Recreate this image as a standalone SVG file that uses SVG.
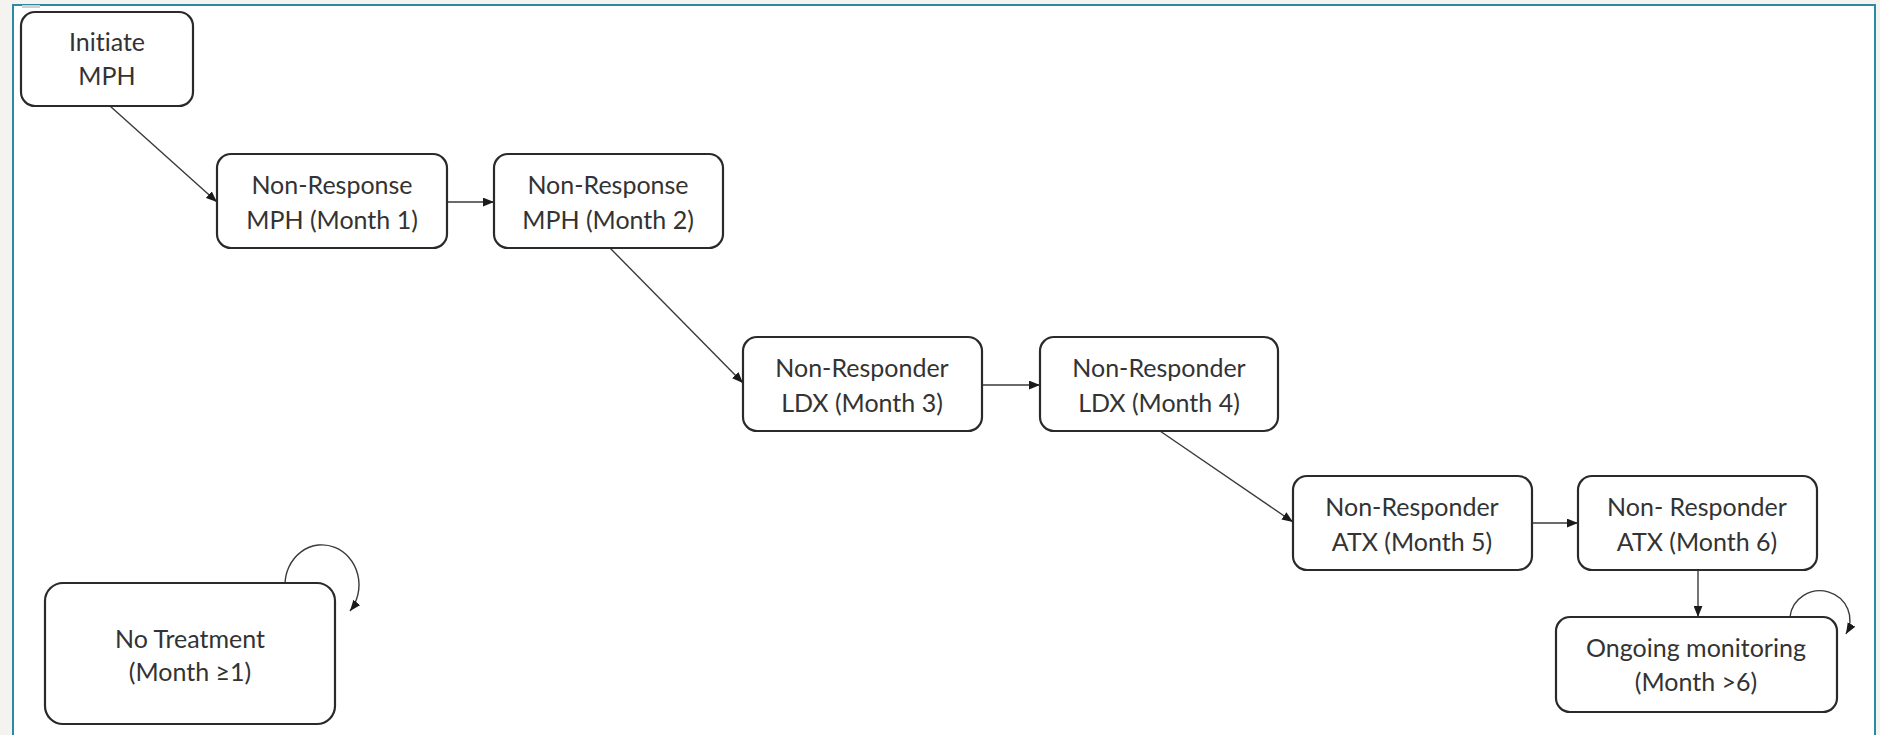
<svg xmlns="http://www.w3.org/2000/svg" width="1880" height="735" viewBox="0 0 1880 735">
  <defs>
    <marker id="arrow" viewBox="0 0 10 8" refX="10" refY="4" markerWidth="11" markerHeight="9" markerUnits="userSpaceOnUse" orient="auto">
      <path d="M0,0 L10,4 L0,8 z" fill="#1a1a1a"/>
    </marker>
  </defs>
  <style>
    .box { fill: #ffffff; stroke: #2a2a2a; stroke-width: 2.2; }
    .label { font-family: Lato, "Open Sans", "Liberation Sans", sans-serif; font-size: 25px; fill: #333333; text-anchor: middle; font-variant-ligatures: none; }
    .edge { fill: none; stroke: #3a3a3a; stroke-width: 1.4; marker-end: url(#arrow); }
  </style>

  <!-- page and frame -->
  <rect x="0" y="0" width="1880" height="735" fill="#f5f3f0"/>
  <rect x="13" y="5" width="1862" height="740" fill="#ffffff" stroke="#2b8aa3" stroke-width="2"/>
  <rect x="22" y="5" width="18" height="3" fill="#cfcfcf"/>

  <!-- connectors -->
  <g id="connectors">
    <line class="edge" x1="110" y1="106" x2="217" y2="202"/>
    <line class="edge" x1="447" y1="202" x2="494" y2="202"/>
    <line class="edge" x1="610" y1="248" x2="743" y2="383"/>
    <line class="edge" x1="982" y1="385" x2="1040" y2="385"/>
    <line class="edge" x1="1160" y1="431" x2="1293" y2="522"/>
    <line class="edge" x1="1532" y1="523" x2="1578" y2="523"/>
    <line class="edge" x1="1698" y1="570" x2="1698" y2="617"/>
    <path class="edge" d="M285,585 A37,40 0 1 1 350,611"/>
    <path class="edge" d="M1790,617 A30,29 0 1 1 1846,634"/>
  </g>

  <!-- nodes -->
  <g id="initiate-mph">
    <rect class="box" x="21" y="12" width="172" height="94" rx="14"/>
    <text class="label" x="107" y="51">Initiate</text>
    <text class="label" x="107" y="85">MPH</text>
  </g>
  <g id="mph-month1">
    <rect class="box" x="217" y="154" width="230" height="94" rx="14"/>
    <text class="label" x="332" y="194">Non-Response</text>
    <text class="label" x="332" y="229">MPH (Month 1)</text>
  </g>
  <g id="mph-month2">
    <rect class="box" x="494" y="154" width="229" height="94" rx="14"/>
    <text class="label" x="608" y="194">Non-Response</text>
    <text class="label" x="608" y="229">MPH (Month 2)</text>
  </g>
  <g id="ldx-month3">
    <rect class="box" x="743" y="337" width="239" height="94" rx="14"/>
    <text class="label" x="862" y="377">Non-Responder</text>
    <text class="label" x="862" y="412">LDX (Month 3)</text>
  </g>
  <g id="ldx-month4">
    <rect class="box" x="1040" y="337" width="238" height="94" rx="14"/>
    <text class="label" x="1159" y="377">Non-Responder</text>
    <text class="label" x="1159" y="412">LDX (Month 4)</text>
  </g>
  <g id="atx-month5">
    <rect class="box" x="1293" y="476" width="239" height="94" rx="14"/>
    <text class="label" x="1412" y="516">Non-Responder</text>
    <text class="label" x="1412" y="551">ATX (Month 5)</text>
  </g>
  <g id="atx-month6">
    <rect class="box" x="1578" y="476" width="239" height="94" rx="14"/>
    <text class="label" x="1697" y="516">Non- Responder</text>
    <text class="label" x="1697" y="551">ATX (Month 6)</text>
  </g>
  <g id="ongoing-monitoring">
    <rect class="box" x="1556" y="617" width="281" height="95" rx="14"/>
    <text class="label" x="1696" y="657">Ongoing monitoring</text>
    <text class="label" x="1696" y="691">(Month &gt;6)</text>
  </g>
  <g id="no-treatment">
    <rect class="box" x="45" y="583" width="290" height="141" rx="18"/>
    <text class="label" x="190" y="648">No Treatment</text>
    <text class="label" x="190" y="681">(Month ≥1)</text>
  </g>
</svg>
